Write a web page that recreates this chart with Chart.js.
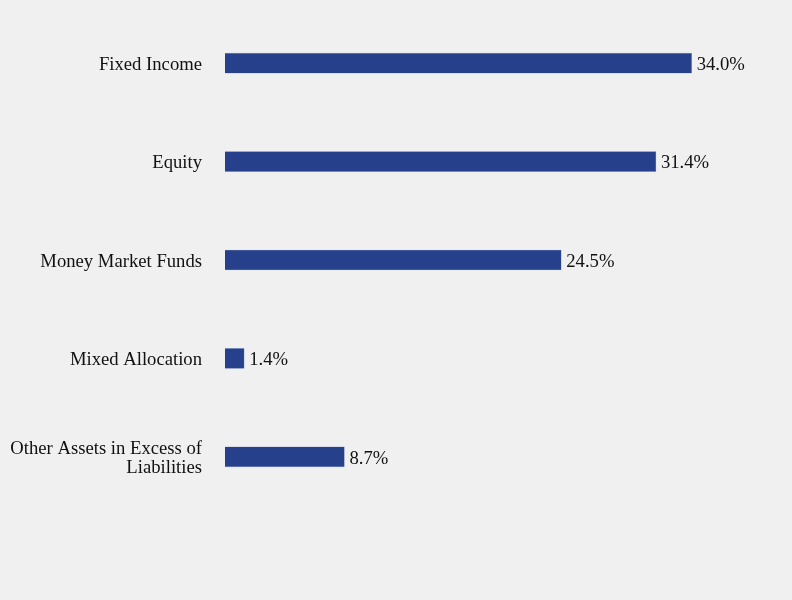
<!DOCTYPE html>
<html>
<head>
<meta charset="utf-8">
<script src="https://cdn.jsdelivr.net/npm/chart.js@4"></script>
<style>
  html, body { margin: 0; padding: 0; background: #f0f0f0; }
  #wrap { width: 792px; height: 600px; }
</style>
</head>
<body>
<div id="wrap"><canvas id="allocChart" width="792" height="600"></canvas></div>
<script>
const categories = [
  "Fixed Income",
  "Equity",
  "Money Market Funds",
  "Mixed Allocation",
  ["Other Assets in Excess of", "Liabilities"]
];
const percents = [34.0, 31.4, 24.5, 1.4, 8.7];

const barColor = "#27408b";
const fontFamily = "'Liberation Serif', 'Times New Roman', serif";
const fontSize = 18.67;

// draw the percentage next to the end of each bar
const valueLabels = {
  id: "valueLabels",
  afterDatasetsDraw(chart) {
    const ctx = chart.ctx;
    const meta = chart.getDatasetMeta(0);
    ctx.save();
    ctx.font = fontSize + "px " + fontFamily;
    ctx.fillStyle = "#111";
    ctx.textAlign = "left";
    ctx.textBaseline = "middle";
    meta.data.forEach((bar, i) => {
      ctx.fillText(percents[i].toFixed(1) + "%", bar.x + 5, bar.y + 2);
    });
    ctx.restore();
  }
};

new Chart(document.getElementById("allocChart"), {
  type: "bar",
  data: {
    labels: categories,
    datasets: [{
      data: percents,
      backgroundColor: barColor,
      borderColor: "#8fa0cc",
      borderWidth: 0.6,
      barThickness: 20
    }]
  },
  options: {
    indexAxis: "y",
    responsive: false,
    animation: false,
    layout: { padding: { top: 14, bottom: 94, left: 0, right: 18 } },
    plugins: {
      legend: { display: false },
      tooltip: { enabled: false }
    },
    scales: {
      x: {
        display: false,
        min: 0,
        max: 40
      },
      y: {
        grid: { display: false, drawTicks: false },
        border: { display: false },
        ticks: {
          color: "#111",
          padding: 23,
          labelOffset: 2,
          font: { family: fontFamily, size: fontSize, lineHeight: 1.02 }
        },
        afterFit(axis) {
          axis.width = 225;
          axis.paddingTop = 0;
          axis.paddingBottom = 0;
        }
      }
    }
  },
  plugins: [valueLabels]
});
</script>
</body>
</html>
